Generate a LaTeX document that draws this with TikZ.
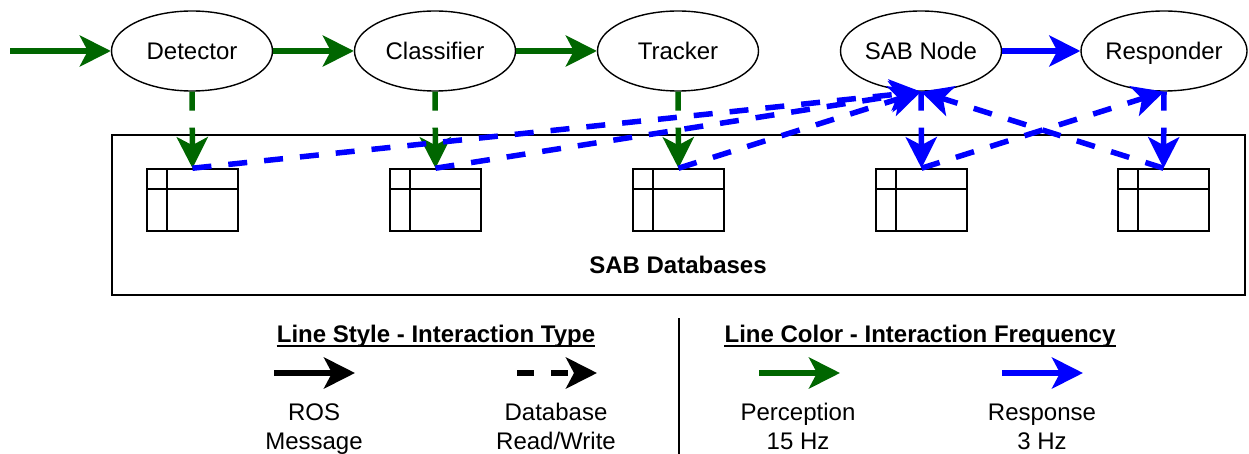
\documentclass[tikz,border=0pt]{standalone}
\usepackage{fontspec}
\setmainfont{Liberation Sans}
\usetikzlibrary{arrows.meta,shapes.geometric}
\definecolor{percep}{HTML}{006600}
\definecolor{resp}{HTML}{0000FF}

\begin{document}
\begin{tikzpicture}[x=1pt,y=-1pt,
  every node/.style={font=\fontsize{24}{29}\selectfont},
  proc/.style={ellipse, draw, line width=1.4pt, minimum width=161pt,
    minimum height=80pt, inner sep=0pt, text height=17.2pt, text depth=0pt},
  tbl/.style={rectangle, draw, line width=1.6pt, minimum width=91pt,
    minimum height=62pt, inner sep=0pt},
  tiphead/.style={-{Stealth[length=31pt,width=31pt,inset=8pt]}},
  conn/.style={tiphead, line width=5.5pt},
  dbrw/.style={conn, dash pattern=on 19pt off 17pt},
  fast/.style={color=percep},
  slow/.style={color=resp},
  txt/.style={anchor=base, inner sep=0pt},
  boldtxt/.style={txt, font=\fontsize{24}{29}\selectfont\bfseries},
]
\useasboundingbox (0,0) rectangle (1249,454);

% processing nodes
\node[proc] (det) at (192,51)  {Detector};
\node[proc] (cls) at (435,51)  {Classifier};
\node[proc] (trk) at (678,51)  {Tracker};
\node[proc] (sab) at (921,51)  {SAB Node};
\node[proc] (rsp) at (1164,51) {Responder};

% database container
\node[draw, line width=1.6pt, minimum width=1133pt, minimum height=160pt,
  inner sep=0pt] (dbbox) at (678.5,215) {};
\node[boldtxt] (dblabel) at (678,273.6) {SAB Databases};

% tables
\foreach \n/\x in {t1/192.5, t2/435.5, t3/678.5, t4/921.5, t5/1163.5} {
  \node[tbl] (\n) at (\x,200) {};
  \draw[line width=1.6pt] ([xshift=21pt]\n.north west) -- ([xshift=21pt]\n.south west);
  \draw[line width=1.6pt] ([yshift=-21pt]\n.north west) -- ([yshift=-21pt]\n.north east);
}

% perception pipeline
\coordinate (input) at (10,51);
\draw[conn, fast] (input) -- (det.west);
\draw[conn, fast] (det.east) -- (cls.west);
\draw[conn, fast] (cls.east) -- (trk.west);
\draw[dbrw, fast] (det.south) -- (t1.north);
\draw[dbrw, fast] (cls.south) -- (t2.north);
\draw[dbrw, fast] (trk.south) -- (t3.north);

% response pipeline
\draw[conn, slow] (sab.east) -- (rsp.west);
\draw[dbrw, slow] (t1.north) -- (sab.south);
\draw[dbrw, slow] (t2.north) -- (sab.south);
\draw[dbrw, slow] (t3.north) -- (sab.south);
\draw[dbrw, slow] (sab.south) -- (t4.north);
\draw[dbrw, slow] (t4.north) -- (rsp.south);
\draw[dbrw, slow] (rsp.south) -- (t5.north);
\draw[dbrw, slow] (t5.north) -- (sab.south);

% legend: line style
\node[boldtxt] (ttl1) at (436,342.6) {Line Style - Interaction Type};
\draw[line width=2pt] ([yshift=-3.5pt]ttl1.base west) -- ([yshift=-3.5pt]ttl1.base east);
\coordinate (ros1) at (274,373);
\coordinate (ros2) at (355,373);
\draw[conn] (ros1) -- (ros2);
\coordinate (dbl1) at (517,373);
\coordinate (dbl2) at (597,373);
\draw[conn, dash pattern=on 17pt off 17pt] (dbl1) -- (dbl2);
\node[txt] (rosA) at (314,420.6) {ROS};
\node[txt] (rosB) at (314,449.6) {Message};
\node[txt] (dbA) at (556,420.6) {Database};
\node[txt] (dbB) at (556,449.6) {Read/Write};

% separator
\coordinate (sepTop) at (679,318);
\coordinate (sepBot) at (679,454);
\draw[line width=1.5pt] (sepTop) -- (sepBot);

% legend: line colour
\node[boldtxt] (ttl2) at (920,342.6) {Line Color - Interaction Frequency};
\draw[line width=2pt] ([yshift=-3.5pt]ttl2.base west) -- ([yshift=-3.5pt]ttl2.base east);
\coordinate (pc1) at (759,373);
\coordinate (pc2) at (840,373);
\draw[conn, fast] (pc1) -- (pc2);
\coordinate (rs1) at (1002,373);
\coordinate (rs2) at (1083,373);
\draw[conn, slow] (rs1) -- (rs2);
\node[txt] (pcA) at (798,420.6) {Perception};
\node[txt] (pcB) at (798,449.6) {15 Hz};
\node[txt] (rsA) at (1042,420.6) {Response};
\node[txt] (rsB) at (1042,449.6) {3 Hz};
\end{tikzpicture}
\end{document}
